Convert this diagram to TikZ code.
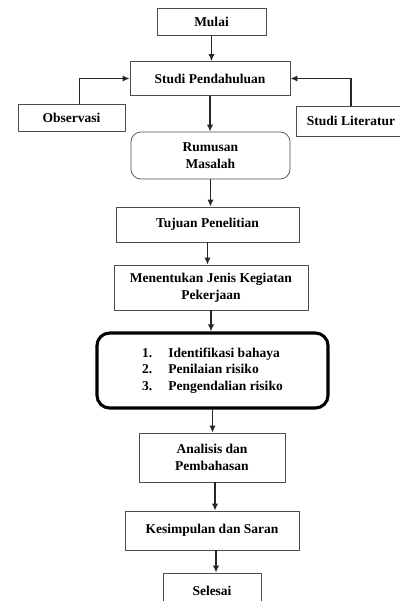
\documentclass[tikz,border=0pt]{standalone}
\usepackage{fontspec}
\setmainfont{Liberation Serif}
\usetikzlibrary{arrows.meta}

\tikzset{
    box/.style={draw=black!70, line width=0.5pt, align=center, inner sep=2pt,
        font=\fontsize{9.6}{12}\selectfont\bfseries},
    roundbox/.style={box, rounded corners=7pt},
    riskbox/.style={box, draw=black, line width=2.2pt, rounded corners=9pt},
    arr/.style={draw=black!85, line width=1pt, -{Latex[length=5pt,width=4.5pt]}}
}

\begin{document}
\begin{tikzpicture}[x=0.025cm, y=-0.025cm]
    	\useasboundingbox (0,0) rectangle (400,601);
    	\clip (0,0) rectangle (400,601);

    	% main column
    	\node[box, minimum width=2.725cm, minimum height=0.675cm] (mulai) at (211.5,21.5) {Mulai};
    	\node[box, minimum width=4cm, minimum height=0.85cm] (studi) at (210,78.5) {Studi Pendahuluan};
    	\node[box, minimum width=2.675cm, minimum height=0.675cm] (obs) at (71.5,117.5) {Observasi};
    	\node[box, minimum width=2.75cm, minimum height=0.75cm] (lit) at (351,121) {Studi Literatur};
    	\node[roundbox, minimum width=3.975cm, minimum height=1.175cm] (rumusan) at (210.5,155.5) {Rumusan\\Masalah};
    	\node[box, minimum width=4.575cm, minimum height=0.875cm] (tujuan) at (207.5,224.5) {Tujuan Penelitian};
    	\node[box, minimum width=4.85cm, minimum height=1.125cm] (jenis) at (211,287.5) {Menentukan Jenis Kegiatan\\Pekerjaan};
    	\node[riskbox, minimum width=5.775cm, minimum height=1.875cm] (risiko) at (212.5,370.5) {%
    		\begin{tabular}{@{}l@{\hspace{0.4cm}}l@{}}
    			1. & Identifikasi bahaya\\
    			2. & Penilaian risiko\\
    			3. & Pengendalian risiko
    		\end{tabular}};
    	\node[box, minimum width=3.65cm, minimum height=1.225cm] (analisis) at (212,457.5) {Analisis dan\\Pembahasan};
    	\node[box, minimum width=4.35cm, minimum height=0.975cm] (simpulan) at (212,530.5) {Kesimpulan dan Saran};
    	\node[box, minimum width=2.45cm, minimum height=0.875cm] (selesai) at (212,590.5) {Selesai};

    	% connectors
    	\draw[arr] (mulai.south) -- (mulai.south |- studi.north);
    	\draw[arr] ([xshift=0.2cm]obs.north) |- (studi.west);
    	\draw[arr] (lit.north) |- (studi.east);
    	\draw[arr] (studi.south) -- (studi.south |- rumusan.north);
    	\draw[arr] (rumusan.south) -- (rumusan.south |- tujuan.north);
    	\draw[arr] (tujuan.south) -- (tujuan.south |- jenis.north);
    	\draw[arr] (jenis.south) -- (jenis.south |- risiko.north);
    	\draw[arr] (risiko.south) -- (risiko.south |- analisis.north);
    	\draw[arr] ([xshift=0.075cm]analisis.south) -- ([xshift=0.075cm]analisis.south |- simpulan.north);
    	\draw[arr] ([xshift=0.1cm]simpulan.south) -- ([xshift=0.1cm]simpulan.south |- selesai.north);

\end{tikzpicture}
\end{document}
